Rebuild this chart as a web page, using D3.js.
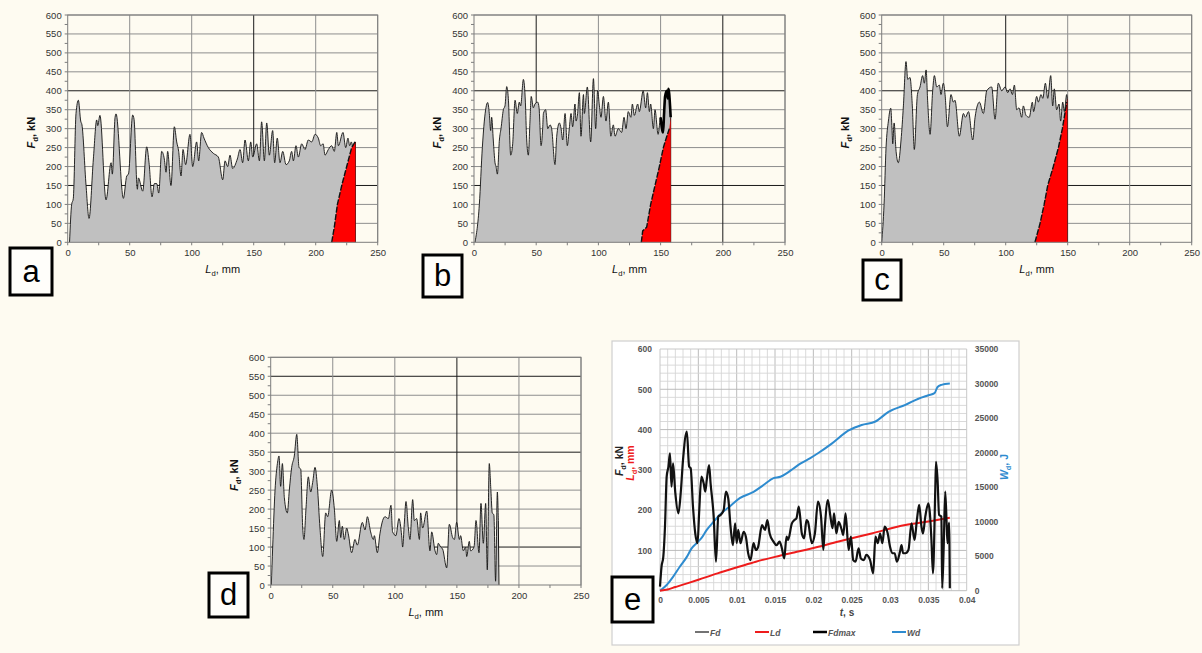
<!DOCTYPE html>
<html lang="en">
<head>
<meta charset="UTF-8" />
<title>Fd - Ld panels</title>
<script src="https://cdnjs.cloudflare.com/ajax/libs/d3/7.8.5/d3.min.js"></script>
<style>
  body { margin: 0; background: #fefbf1; }
  svg { display: block; font-family: "Liberation Sans", Arial, sans-serif; }
</style>
</head>
<body>
<script>
// ---- data: Fd (kN) vs Ld (mm) for the four tests ----
const curveA = [[1.5,0],[3.2,100],[4.5,115],[6.7,340],[8.6,375],[10.5,320],[11.5,310],[14.8,150],[17.2,63],[20.7,220],[23.4,323],[24.2,308],[26,335],[30.9,112],[35,210],[36,180],[38.2,330],[39,339],[44.9,116],[47.6,175],[49,180],[52.4,336],[53.5,325],[56.2,140],[57,170],[60.5,135],[63.7,252],[65.6,210],[68,120],[69.9,155],[71.8,155],[73.4,130],[75.8,240],[77.9,220],[79.3,185],[80.6,240],[83.3,150],[86,305],[87.9,265],[89.5,240],[91.4,175],[93,245],[95.1,205],[98.6,285],[100.8,200],[104,265],[105.6,215],[108,290],[109.9,275],[113.4,250],[117.4,235],[121.5,225],[125,165],[126.9,215],[129,200],[130.9,230],[133,195],[136.8,220],[139,245],[141.1,210],[143,270],[145.7,215],[147.6,265],[149.2,225],[152.4,260],[154.6,215],[156.4,318],[158.6,215],[160.5,315],[162.6,230],[165.3,295],[166.9,210],[169,275],[171.2,210],[173.4,240],[176.1,205],[178.7,215],[180.6,240],[182,215],[184.1,255],[186,225],[188.7,260],[191.4,245],[194,270],[196.8,265],[199.5,285],[202.1,275],[204,255],[206,260],[207.5,230],[210.2,245],[212.9,255],[215,240],[217,290],[218.3,255],[222,290],[224.2,250],[226,275],[227.4,255],[228.7,265],[230.4,245],[232,265],[232,0]];
const redA = [[212.9,0],[215,40],[217.5,100],[221,150],[225,200],[229,250],[231.7,265],[232,265],[232,0]];

const curveB = [[0.8,0],[4.3,100],[6.7,250],[8.3,320],[11,369],[12.3,340],[13.4,295],[14.2,330],[15.5,270],[16.9,210],[17.7,200],[18.8,180],[20.4,270],[21.7,300],[23.6,350],[24.9,360],[26.3,411],[27.6,380],[29.5,230],[31.1,260],[33,375],[34.8,340],[36.4,370],[37.5,360],[39.7,430],[41.3,370],[42.3,275],[43.7,230],[45,320],[46,385],[47.7,355],[49,365],[51.2,370],[52.3,355],[53.9,255],[55.2,300],[55.8,340],[57.6,350],[59.3,300],[61.1,310],[62.4,300],[65.1,205],[66.5,280],[68.6,315],[70,300],[71.3,270],[73.2,340],[75,255],[76.6,300],[78,340],[79.3,305],[81.2,365],[82,320],[83.3,340],[84.7,395],[86,280],[88,390],[88.7,340],[91.1,410],[93.8,265],[96,432],[97.8,300],[99.4,400],[100.8,360],[102.1,330],[104,385],[106.1,320],[108,370],[110,280],[112,310],[113.4,280],[116,300],[118.7,290],[120.6,330],[122.2,300],[124,345],[126.1,330],[127.3,365],[128.9,335],[131.6,365],[132.9,345],[136,400],[138,355],[139.4,395],[141,345],[142,365],[144.2,300],[145.5,350],[148,285],[150,330],[152,290],[152.8,340],[153.6,385],[155,400],[155.8,380],[156.3,405],[157.6,360],[158.1,330],[158.1,0]];
const redB = [[134.5,0],[135.6,30],[138.8,40],[142,100],[145.5,150],[149,200],[152.2,250],[155,280],[157,300],[158.1,330],[158.1,0]];

const curveC = [[0,0],[1.9,100],[3.5,250],[5.4,320],[7.3,354],[8.3,300],[8.9,260],[10,315],[11.6,240],[13.4,210],[15.6,270],[17.5,360],[19.6,477],[21,430],[22.8,435],[24.7,360],[26.3,245],[28.8,390],[30.9,410],[33,440],[34.4,420],[35.8,455],[37.1,370],[39,285],[41.1,400],[42.5,440],[44.4,410],[46.5,415],[47.8,390],[49.7,420],[51.1,390],[53,305],[55.9,390],[57.8,370],[59.1,375],[62.6,280],[65.9,340],[67.5,330],[70,345],[73.4,270],[75.3,330],[78.8,370],[82,340],[84.7,400],[88.7,410],[91.4,325],[94,420],[96.8,400],[99.5,410],[101.6,395],[103.5,405],[105.4,390],[107,415],[108.9,350],[110.7,355],[112.9,330],[114.2,360],[116.4,335],[119,330],[121.5,370],[122.5,345],[125,385],[126.3,370],[128.5,390],[129.9,380],[132,420],[133.9,380],[136.3,440],[137.9,360],[139.2,405],[141.1,350],[143,365],[144.3,320],[146,370],[147.3,345],[149.2,390],[149.7,380],[149.7,0]];
const redC = [[123.6,0],[127.7,50],[131,100],[133.9,150],[138.4,200],[142.5,250],[145.7,300],[149.2,370],[149.7,380],[149.7,0]];

const curveD = [[0.5,0],[1.6,100],[3.5,250],[5.4,320],[6.7,340],[8,260],[9.4,320],[11,230],[13.4,190],[15,250],[16.9,310],[19,340],[21,397],[22.8,310],[24.2,305],[25.8,150],[26.8,120],[28.4,200],[30.3,285],[32.2,245],[33.8,270],[35.7,310],[37.6,260],[39.7,150],[41.9,75],[44.3,190],[45.9,180],[49.1,250],[51.3,200],[53.2,115],[55.3,170],[56.4,125],[57.7,155],[59.3,120],[61.2,150],[62.5,135],[65.2,85],[67.9,120],[69.8,105],[73.8,165],[76,145],[77.9,180],[80.5,140],[82.7,120],[83.5,130],[85.9,85],[88,135],[90.2,170],[92.1,180],[94.8,175],[96.9,210],[98.2,140],[100.9,130],[103.3,175],[105.5,130],[106.3,100],[107.6,160],[109,220],[110.9,150],[112.2,120],[114.4,225],[115.7,170],[117.6,175],[119.8,120],[120.8,190],[122.4,150],[125.7,195],[128.3,90],[129.7,140],[132.4,90],[133.7,80],[135,110],[136.9,100],[138.5,95],[141.8,45],[143.9,160],[146.6,125],[148,120],[149.8,165],[152,120],[153,130],[155.2,90],[157.1,100],[157.9,75],[160,115],[161.1,90],[163.8,100],[165.4,170],[167.8,85],[169.4,215],[171.3,110],[173.2,215],[174.5,40],[176.1,320],[177.4,250],[178.5,190],[179.8,185],[181.2,10],[182.6,245],[183.4,170],[183.9,0]];

// ---- data: panel e, time series ----
const fdT = [[0,10],[0.0002,60],[0.00043,84],[0.00065,159],[0.00087,283],[0.0011,308],[0.0013,341],[0.0015,258],[0.0017,316],[0.002,242],[0.0024,192],[0.0027,242],[0.003,324],[0.0035,395],[0.0038,308],[0.004,304],[0.0043,209],[0.0046,142],[0.0049,118],[0.0051,192],[0.0054,283],[0.0057,266],[0.0059,246],[0.0061,275],[0.0064,312],[0.0066,266],[0.007,184],[0.0073,72],[0.0076,184],[0.0079,188],[0.0083,200],[0.0086,246],[0.0089,229],[0.0092,159],[0.0095,113],[0.0098,167],[0.01,118],[0.0102,151],[0.0105,118],[0.0109,146],[0.0112,134],[0.0115,93],[0.0118,76],[0.0122,118],[0.0125,101],[0.0128,109],[0.0133,163],[0.0137,151],[0.014,175],[0.0143,142],[0.0148,122],[0.0152,113],[0.0156,122],[0.0159,105],[0.0162,80],[0.0165,134],[0.0167,126],[0.0172,167],[0.0175,175],[0.0178,180],[0.0181,209],[0.0185,142],[0.0188,130],[0.0191,175],[0.0193,171],[0.0198,118],[0.0202,142],[0.0206,221],[0.021,184],[0.0213,101],[0.0215,159],[0.0219,225],[0.0222,188],[0.0225,155],[0.0227,192],[0.023,142],[0.0233,171],[0.0237,151],[0.0239,138],[0.0242,192],[0.0246,101],[0.0249,134],[0.0252,76],[0.0255,72],[0.0259,105],[0.0262,80],[0.0266,76],[0.0269,89],[0.0274,76],[0.0278,43],[0.0281,134],[0.0284,118],[0.0287,142],[0.029,118],[0.0293,159],[0.0297,142],[0.03,109],[0.0303,93],[0.0306,93],[0.0309,72],[0.0313,97],[0.0315,113],[0.0317,93],[0.032,93],[0.0324,101],[0.0328,167],[0.0332,126],[0.0335,175],[0.0338,213],[0.0341,159],[0.0343,142],[0.0346,184],[0.035,217],[0.0352,192],[0.0354,126],[0.0356,43],[0.0359,250],[0.036,320],[0.0362,275],[0.0364,188],[0.0367,184],[0.0368,6],[0.037,109],[0.0372,246],[0.0374,159],[0.0375,118],[0.0377,169],[0.0378,6]];
const ldT = [[0,0],[0.001,3],[0.002,9],[0.003,15],[0.005,27],[0.0075,43],[0.0104,60],[0.0125,72],[0.015,84],[0.0175,95],[0.0196,104],[0.0233,122],[0.0276,142],[0.032,163],[0.035,172],[0.0378,181]];
const wdT = [[0,0],[0.00087,820],[0.0017,2000],[0.0026,3500],[0.0035,4900],[0.0041,6100],[0.0048,6900],[0.0054,7600],[0.0061,8800],[0.007,10000],[0.0078,11000],[0.0091,12200],[0.0104,13400],[0.0122,14300],[0.0135,15300],[0.0148,16300],[0.0157,16500],[0.0165,17000],[0.0174,17700],[0.0183,18400],[0.0196,19200],[0.0206,19900],[0.0224,21300],[0.0246,23200],[0.0263,24000],[0.0281,24500],[0.0298,25900],[0.032,26900],[0.0337,27800],[0.035,28300],[0.0358,28600],[0.0362,29500],[0.0367,29800],[0.0378,30000]];

const fTicks = d3.range(0, 601, 50);
const lTicks = d3.range(0, 251, 50);
const tTicks = [0,0.005,0.01,0.015,0.02,0.025,0.03,0.035,0.04];
const fTicksE = d3.range(0, 601, 100);
const wTicks = d3.range(0, 35001, 5000);
const legendNames = ["Fd","Ld","Fdmax","Wd"];

const svg = d3.select("body").append("svg").attr("width", 1202).attr("height", 653);
svg.append("rect").attr("width", 1202).attr("height", 653).attr("fill", "#fefbf1");

const GRID = "#8e8e8e", DARK = "#1a1a1a";

function subLabel(g, main, sub, rest, opts) {
  const t = g.append("text")
    .attr("text-anchor", "middle")
    .attr("font-size", opts.size)
    .attr("font-weight", opts.weight || "normal")
    .attr("fill", opts.color || "#111")
    .attr("transform", opts.transform);
  t.append("tspan").attr("font-style", "italic").text(main);
  t.append("tspan").attr("dy", 3).attr("font-size", opts.size * 0.7).text(sub);
  t.append("tspan").attr("dy", -3).text(rest);
  return t;
}

function drawPanel(cfg) {
  const x = d3.scaleLinear().domain([0, 250]).range([cfg.left, cfg.right]);
  const y = d3.scaleLinear().domain([0, 600]).range([cfg.bottom, cfg.top]);
  const g = svg.append("g");

  // grid
  g.selectAll(".hg").data(fTicks.slice(1)).join("line")
    .attr("x1", cfg.left).attr("x2", cfg.right)
    .attr("y1", d => y(d)).attr("y2", d => y(d))
    .attr("stroke", d => cfg.darkY.includes(d) ? DARK : GRID).attr("stroke-width", 1);
  g.selectAll(".vg").data(lTicks.slice(1)).join("line")
    .attr("y1", cfg.top).attr("y2", cfg.bottom)
    .attr("x1", d => x(d)).attr("x2", d => x(d))
    .attr("stroke", d => cfg.darkX.includes(d) ? DARK : GRID).attr("stroke-width", 1);

  // area under Fd (last point is the drop back to zero)
  const pts = cfg.curve.slice(0, -1);
  const end = cfg.curve[cfg.curve.length - 1];
  const area = d3.area().curve(d3.curveMonotoneX).x(d => x(d[0])).y0(y(0)).y1(d => y(d[1]));
  const smooth = d3.line().curve(d3.curveMonotoneX).x(d => x(d[0])).y(d => y(d[1]));
  const line = d3.line().x(d => x(d[0])).y(d => y(d[1]));
  g.append("path").datum(pts).attr("d", area).attr("fill", "#c0c0c0");
  g.append("path").datum(pts).attr("d", smooth)
    .attr("fill", "none").attr("stroke", "#111").attr("stroke-width", 0.9);
  if (cfg.thickFrom != null) {
    g.append("path").datum(pts.filter(d => d[0] >= cfg.thickFrom)).attr("d", smooth)
      .attr("fill", "none").attr("stroke", "#000").attr("stroke-width", 2.6);
  }
  g.append("path").datum([pts[pts.length - 1], end]).attr("d", line)
    .attr("stroke", "#111").attr("stroke-width", 1);
  if (cfg.red) {
    g.append("path").datum(cfg.red).attr("d", d => line(d) + "Z").attr("fill", "#ff0000");
    g.append("path").datum(cfg.red.slice(0, -2)).attr("d", line)
      .attr("fill", "none").attr("stroke", "#111").attr("stroke-width", 1.4)
      .attr("stroke-dasharray", "6,1.5");
  }

  // frame
  g.append("rect").attr("x", cfg.left).attr("y", cfg.top)
    .attr("width", cfg.right - cfg.left).attr("height", cfg.bottom - cfg.top)
    .attr("fill", "none").attr("stroke", "#7d7d7d").attr("stroke-width", 1);

  // axes
  const ya = d3.axisLeft(y).tickValues(fTicks).tickSize(0).tickPadding(6);
  const yax = g.append("g").attr("transform", `translate(${cfg.left},0)`).call(ya);
  const xa = d3.axisBottom(x).tickValues(lTicks).tickSize(0).tickPadding(7);
  const xax = g.append("g").attr("transform", `translate(0,${cfg.bottom})`).call(xa);
  [yax, xax].forEach(a => {
    a.select(".domain").remove();
    a.selectAll("text").attr("font-size", 9.5).attr("fill", "#333")
      .attr("font-family", "'Liberation Sans', Arial, sans-serif");
  });
  // minor ticks
  g.selectAll(".my").data(d3.range(0, 601, 25)).join("line")
    .attr("x1", cfg.left - 3).attr("x2", cfg.left)
    .attr("y1", d => y(d)).attr("y2", d => y(d)).attr("stroke", "#7d7d7d");
  g.selectAll(".mx").data(d3.range(0, 251, 25)).join("line")
    .attr("y1", cfg.bottom).attr("y2", cfg.bottom + 3)
    .attr("x1", d => x(d)).attr("x2", d => x(d)).attr("stroke", "#7d7d7d");

  // titles
  const cy = (cfg.top + cfg.bottom) / 2;
  subLabel(g, "F", "d", ", kN", { size: 11, weight: "bold",
    transform: `translate(${cfg.left - 33},${cy + 4}) rotate(-90)` });
  subLabel(g, "L", "d", ", mm", { size: 11,
    transform: `translate(${(cfg.left + cfg.right) / 2},${cfg.bottom + 31})` });

  // label box
  labelBox(cfg.box, cfg.letter);
}

function labelBox(b, letter) {
  svg.append("rect").attr("x", b[0]).attr("y", b[1]).attr("width", b[2]).attr("height", b[3])
    .attr("fill", "#fffefa").attr("stroke", "#000").attr("stroke-width", 3);
  svg.append("text").attr("x", b[0] + b[2] / 2).attr("y", b[1] + b[3] / 2 + 10)
    .attr("text-anchor", "middle").attr("font-size", 31).attr("fill", "#000").text(letter);
}

drawPanel({ left: 67.7, right: 377.7, top: 15, bottom: 242.3, curve: curveA, red: redA,
  darkX: [150], darkY: [400, 150], box: [10, 248, 42, 47], letter: "a" });
drawPanel({ left: 474, right: 785, top: 15, bottom: 242.3, curve: curveB, red: redB, thickFrom: 150,
  darkX: [50, 200], darkY: [400, 150], box: [423, 255, 39, 42], letter: "b" });
drawPanel({ left: 881.7, right: 1191.7, top: 15, bottom: 242.3, curve: curveC, red: redC,
  darkX: [100], darkY: [400, 150], box: [863, 260, 38, 40], letter: "c" });
drawPanel({ left: 270.7, right: 581, top: 357.3, bottom: 585, curve: curveD, red: null,
  darkX: [150], darkY: [550, 350, 100], box: [209, 573, 39, 44], letter: "d" });

// ---- panel e ----
(function () {
  const L = 660, R = 966.7, T = 349, B = 590.7;
  const ge = svg.append("g");
  ge.append("rect").attr("x", 612).attr("y", 341).attr("width", 407).attr("height", 304)
    .attr("fill", "#ffffff").attr("stroke", "#cfcfcf").attr("stroke-width", 1.2);
  const x = d3.scaleLinear().domain([0, 0.04]).range([L, R]);
  const y = d3.scaleLinear().domain([0, 600]).range([B, T]);
  const y2 = d3.scaleLinear().domain([0, 35000]).range([B, T]);

  const minorX = d3.range(1, 40).map(i => i * 0.001);
  const minorY = d3.range(1, 30).map(i => i * 20);
  ge.selectAll(".gx").data(minorX).join("line")
    .attr("x1", d => x(d)).attr("x2", d => x(d)).attr("y1", T).attr("y2", B)
    .attr("stroke", (d, i) => (i + 1) % 5 === 0 ? "#b4b4b4" : "#d6d6d6").attr("stroke-width", 0.9);
  ge.selectAll(".gy").data(minorY).join("line")
    .attr("y1", d => y(d)).attr("y2", d => y(d)).attr("x1", L).attr("x2", R)
    .attr("stroke", (d, i) => (i + 1) % 5 === 0 ? "#b4b4b4" : "#d6d6d6").attr("stroke-width", 0.9);
  ge.append("line").attr("x1", L).attr("x2", R).attr("y1", T).attr("y2", T).attr("stroke", "#c8c8c8");
  ge.append("line").attr("x1", R).attr("x2", R).attr("y1", T).attr("y2", B).attr("stroke", "#c8c8c8");
  ge.append("line").attr("x1", L).attr("x2", L).attr("y1", T).attr("y2", B).attr("stroke", "#c8c8c8");
  ge.append("line").attr("x1", L).attr("x2", R).attr("y1", B).attr("y2", B).attr("stroke", "#bdbdbd");

  const tickStyle = a => {
    a.select(".domain").remove();
    a.selectAll("text").attr("font-size", 8.5).attr("font-weight", "bold").attr("fill", "#555")
      .attr("font-family", "'Liberation Sans', Arial, sans-serif");
  };
  ge.append("g").attr("transform", `translate(${L},0)`)
    .call(d3.axisLeft(y).tickValues(fTicksE).tickSize(0).tickPadding(8)).call(tickStyle);
  ge.append("g").attr("transform", `translate(${R},0)`)
    .call(d3.axisRight(y2).tickValues(wTicks).tickFormat(d3.format("d")).tickSize(0).tickPadding(8))
    .call(tickStyle);
  ge.append("g").attr("transform", `translate(0,${B})`)
    .call(d3.axisBottom(x).tickValues(tTicks).tickFormat(d => d3.format("~g")(d)).tickSize(0).tickPadding(6))
    .call(tickStyle);

  const lineOf = (sy, c) => d3.line().curve(c).x(d => x(d[0])).y(d => sy(d[1]));
  ge.append("path").datum(wdT).attr("d", lineOf(y2, d3.curveMonotoneX)).attr("fill", "none")
    .attr("stroke", "#2e8bcf").attr("stroke-width", 2);
  ge.append("path").datum(ldT).attr("d", lineOf(y, d3.curveMonotoneX)).attr("fill", "none")
    .attr("stroke", "#ee1c1c").attr("stroke-width", 2);
  ge.append("path").datum(fdT).attr("d", lineOf(y, d3.curveMonotoneX)).attr("fill", "none")
    .attr("stroke", "#111").attr("stroke-width", 2.2).attr("stroke-linejoin", "round");

  // axis titles
  subLabel(ge, "F", "d", ", kN", { size: 10.5, weight: "bold", color: "#222",
    transform: `translate(623,461) rotate(-90)` });
  subLabel(ge, "L", "d", ", mm", { size: 10.5, weight: "bold", color: "#ee1c1c",
    transform: `translate(634,463) rotate(-90)` });
  subLabel(ge, "W", "d", ", J", { size: 10.5, weight: "bold", color: "#2e8bcf",
    transform: `translate(1008,467) rotate(-90)` });
  const ts = ge.append("text").attr("x", 847).attr("y", 616).attr("text-anchor", "middle")
    .attr("font-size", 10).attr("font-weight", "bold").attr("fill", "#444");
  ts.append("tspan").attr("font-style", "italic").text("t");
  ts.append("tspan").text(", s");

  // legend
  const legColors = ["#444", "#ee1c1c", "#000", "#2e8bcf"];
  const legWidths = [1.5, 2, 2.5, 2];
  const legX = [695, 755, 813, 892];
  legendNames.forEach((n, i) => {
    ge.append("line").attr("x1", legX[i]).attr("x2", legX[i] + 14).attr("y1", 632).attr("y2", 632)
      .attr("stroke", legColors[i]).attr("stroke-width", legWidths[i]);
    ge.append("text").attr("x", legX[i] + 15).attr("y", 635.5).attr("font-size", 8.5)
      .attr("font-weight", "bold").attr("font-style", "italic").attr("fill", "#555").text(n);
  });

  labelBox([612, 577, 41, 45], "e");
})();
</script>
</body>
</html>
